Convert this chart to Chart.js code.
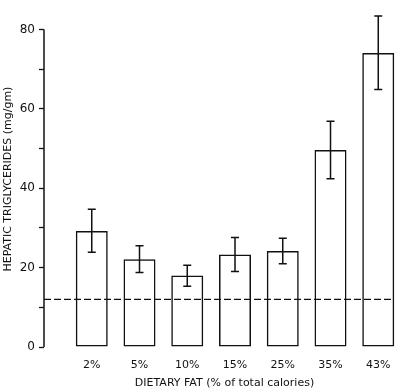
<!DOCTYPE html>
<html>
<head>
<meta charset="utf-8">
<script src="https://cdn.jsdelivr.net/npm/chart.js@4.4.1/dist/chart.umd.min.js"></script>
<style>
  html, body { margin: 0; padding: 0; background: #fff; }
  #wrap { width: 406px; height: 390px; position: relative; }
</style>
</head>
<body>
<div id="wrap"><canvas id="c" width="406" height="390"></canvas></div>
<script>
// ---- data ----
const categories = ['2%', '5%', '10%', '15%', '25%', '35%', '43%'];
const triglycerides = [29.2, 22.1, 18.0, 23.3, 24.2, 49.6, 74.1];
const errorHigh = [34.7, 25.5, 20.6, 27.6, 27.4, 56.9, 83.4];
const errorLow = [23.9, 18.8, 15.3, 19.0, 21.0, 42.4, 64.9];
const referenceLevel = 12.0;
const referenceSpan = [0, 7.33];
const yTickLabels = [0, 20, 40, 60, 80];

const ink = '#111';
const fontFamily = '"DejaVu Sans", "Liberation Sans", sans-serif';

const barData = categories.map((c, i) => ({ x: i + 1, y: triglycerides[i] }));
const refData = referenceSpan.map(x => ({ x: x, y: referenceLevel }));

const errorBarPlugin = {
  id: 'errorBars',
  afterDatasetsDraw(chart) {
    const xs = chart.scales.x, ys = chart.scales.y, ctx = chart.ctx;
    ctx.save();
    ctx.strokeStyle = ink;
    ctx.lineWidth = 1.5;
    categories.forEach((c, i) => {
      const px = xs.getPixelForValue(i + 1);
      const hi = ys.getPixelForValue(errorHigh[i]);
      const lo = ys.getPixelForValue(errorLow[i]);
      ctx.beginPath();
      ctx.moveTo(px, hi); ctx.lineTo(px, lo);
      ctx.moveTo(px - 4, hi); ctx.lineTo(px + 4, hi);
      ctx.moveTo(px - 4, lo); ctx.lineTo(px + 4, lo);
      ctx.stroke();
    });
    // y axis line from 0 to 80 only
    const ax = chart.chartArea.left;
    ctx.lineWidth = 1.5;
    ctx.beginPath();
    ctx.moveTo(ax, ys.getPixelForValue(0));
    ctx.lineTo(ax, ys.getPixelForValue(yTickLabels[yTickLabels.length - 1]));
    ctx.stroke();
    ctx.restore();
  }
};

new Chart(document.getElementById('c'), {
  type: 'bar',
  data: {
    datasets: [
      {
        type: 'line',
        data: refData,
        borderColor: ink,
        borderWidth: 1.4,
        borderDash: [7, 3],
        pointRadius: 0,
        fill: false,
        order: 0
      },
      {
        type: 'bar',
        data: barData,
        backgroundColor: 'rgba(255,255,255,0)',
        borderColor: ink,
        borderWidth: 1.5,
        borderSkipped: false,
        barPercentage: 0.67,
        categoryPercentage: 1.0,
        order: 1
      }
    ]
  },
  options: {
    responsive: false,
    animation: false,
    devicePixelRatio: 1,
    layout: { padding: { top: 0, right: 1, bottom: 0, left: 0 } },
    plugins: { legend: { display: false }, tooltip: { enabled: false } },
    scales: {
      x: {
        type: 'linear',
        offset: false,
        min: 0,
        max: 7.56,
        border: { display: false },
        grid: { display: false, drawTicks: false, offset: false },
        afterBuildTicks(scale) {
          scale.ticks = categories.map((c, i) => ({ value: i + 1 }));
        },
        afterFit(scale) { scale.height = 43; },
        ticks: {
          stepSize: 1,
          autoSkip: false,
          maxRotation: 0,
          padding: 12,
          color: ink,
          font: { family: fontFamily, size: 11 },
          callback: (v) => categories[Math.round(v) - 1] || ''
        },
        title: {
          display: true,
          text: 'DIETARY FAT (% of total calories)',
          color: ink,
          font: { family: fontFamily, size: 11 },
          padding: { top: 0, bottom: 0 }
        }
      },
      y: {
        min: 0,
        max: 84.6,
        border: { display: false },
        grid: {
          display: true,
          drawOnChartArea: false,
          drawTicks: true,
          tickLength: 5,
          tickColor: ink,
          tickWidth: 1.3
        },
        afterBuildTicks(scale) {
          scale.ticks = [0, 10, 20, 30, 40, 50, 60, 70, 80].map(v => ({ value: v }));
        },
        afterFit(scale) { scale.width = 44; },
        ticks: {
          stepSize: 10,
          padding: 4,
          color: ink,
          font: { family: fontFamily, size: 12 },
          callback: (v) => yTickLabels.includes(v) ? String(v) : ''
        },
        title: {
          display: true,
          text: 'HEPATIC TRIGLYCERIDES (mg/gm)',
          color: ink,
          font: { family: fontFamily, size: 11 },
          padding: { top: 2, bottom: 0 }
        }
      }
    }
  },
  plugins: [errorBarPlugin]
});
</script>
</body>
</html>
